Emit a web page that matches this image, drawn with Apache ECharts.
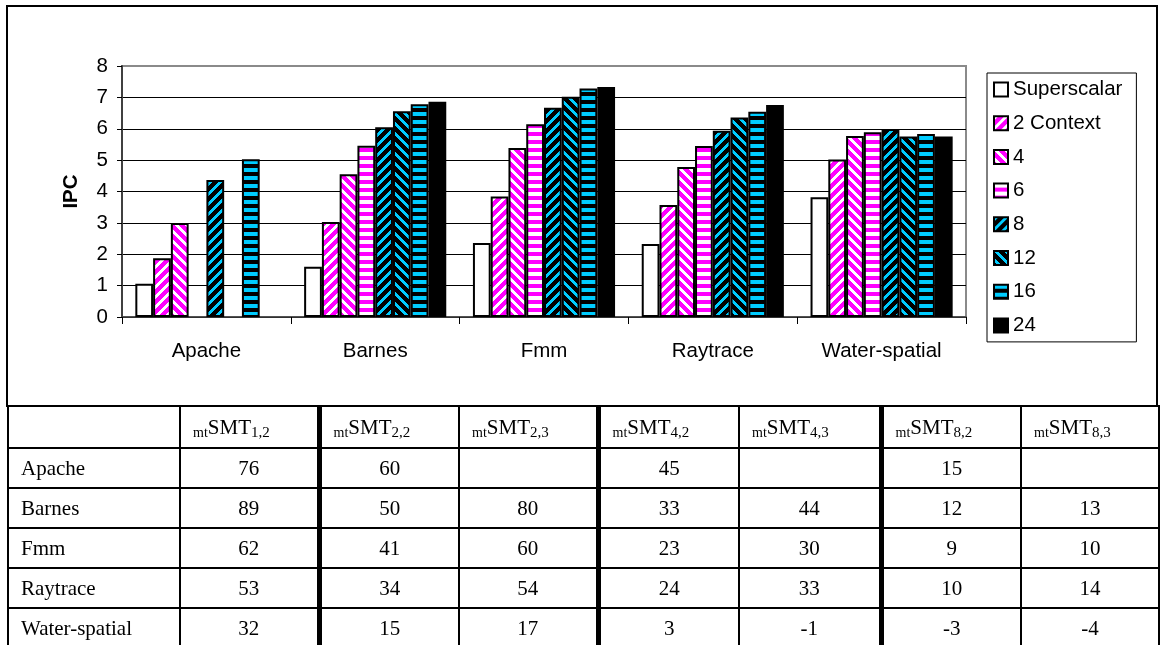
<!DOCTYPE html>
<html>
<head>
<meta charset="utf-8">
<script src="https://cdn.jsdelivr.net/npm/echarts@6/dist/echarts.min.js"></script>
<style>
  html, body { margin: 0; padding: 0; background: #fff; }
  #wrap { position: relative; width: 1160px; height: 645px; overflow: hidden; }
  #chart { position: absolute; left: 0; top: 0; width: 1160px; height: 645px; }
  #tbl {
    position: absolute; left: 7px; top: 405px;
    border-collapse: collapse; table-layout: fixed;
    font-family: "Liberation Serif", "Times New Roman", serif; font-size: 21px; color: #000;
  }
  #tbl td { border: 2px solid #000; padding: 0; height: 38px; text-align: center; white-space: nowrap; }
  #tbl tr.head td { height: 40px; text-align: left; padding-left: 12px; }
  #tbl td.rowname { text-align: left; padding-left: 12px; }
  #tbl td.thick { border-left: 5px solid #000; }
  #tbl sub { font-size: 15px; vertical-align: -3px; line-height: 0; }
  #tbl sub.pre { font-size: 14px; }
</style>
</head>
<body>
<div id="wrap">
  <div id="chart"></div>
  <table id="tbl"></table>
</div>
<script>
// Benchmarks on the category axis
const benchmarks = ['Apache', 'Barnes', 'Fmm', 'Raytrace', 'Water-spatial'];

// IPC per configuration (null = not measured)
const superscalar = [1.06, 1.60, 2.36, 2.33, 3.82];
const ctx2  = [1.87, 3.03, 3.84, 3.57, 5.02];
const ctx4  = [3.00, 4.55, 5.39, 4.78, 5.77];
const ctx6  = [null, 5.46, 6.14, 5.45, 5.89];
const ctx8  = [4.37, 6.05, 6.67, 5.94, 5.99];
const ctx12 = [null, 6.56, 7.02, 6.36, 5.75];
const ctx16 = [5.03, 6.78, 7.28, 6.54, 5.83];
const ctx24 = [null, 6.86, 7.33, 6.76, 5.75];

const seriesNames = ['Superscalar', '2 Context', '4', '6', '8', '12', '16', '24'];
const yTicks = [0, 1, 2, 3, 4, 5, 6, 7, 8];

// Table of mtSMT results: column subscripts and per-benchmark values ('' = empty cell)
const tableCols = ['1,2', '2,2', '2,3', '4,2', '4,3', '8,2', '8,3'];
const tableApache   = ['76', '60', '',   '45', '',   '15', ''];
const tableBarnes   = ['89', '50', '80', '33', '44', '12', '13'];
const tableFmm      = ['62', '41', '60', '23', '30', '9',  '10'];
const tableRaytrace = ['53', '34', '54', '24', '33', '10', '14'];
const tableWater    = ['32', '15', '17', '3',  '-1', '-3', '-4'];

// ---- fill patterns (square tiles, like office chart hatches) ----
function tile(n, bg, fg, test) {
  const c = document.createElement('canvas');
  c.width = n; c.height = n;
  const g = c.getContext('2d');
  g.fillStyle = bg; g.fillRect(0, 0, n, n);
  g.fillStyle = fg;
  for (let y = 0; y < n; y++) for (let x = 0; x < n; x++) if (test(x, y, n)) g.fillRect(x, y, 1, 1);
  return { image: c, repeat: 'repeat' };
}
const MAG = '#FF00FF', CYAN = '#00CCFF';
const up    = (x, y, n) => ((x + y) % n) < 4;            // "/" stripes
const down  = (x, y, n) => ((x - y + 2 * n) % n) < 4;    // "\" stripes
const horiz = (x, y, n) => (y % n) < n / 2;              // horizontal bands

const fills = [
  '#FFFFFF',
  tile(10, MAG, '#FFFFFF', up),
  tile(10, MAG, '#FFFFFF', down),
  tile(8, MAG, '#FFFFFF', horiz),
  tile(10, '#000000', CYAN, up),
  tile(10, '#000000', CYAN, down),
  tile(8, '#000000', CYAN, horiz),
  '#000000'
];
const values = [superscalar, ctx2, ctx4, ctx6, ctx8, ctx12, ctx16, ctx24];

const FONT = '"Liberation Sans", Arial, sans-serif';

const chart = echarts.init(document.getElementById('chart'), null, { renderer: 'canvas' });
chart.setOption({
  animation: false,
  backgroundColor: '#fff',
  graphic: [{
    type: 'rect', z: 0,
    shape: { x: 7, y: 6, width: 1150, height: 400 },
    style: { fill: null, stroke: '#000', lineWidth: 2 }
  }],
  grid: {
    left: 122, top: 66, width: 844, height: 251,
    show: true, borderColor: '#8a8a8a', borderWidth: 2, backgroundColor: 'transparent'
  },
  legend: {
    orient: 'vertical', left: 987, top: 73,
    data: seriesNames,
    selectedMode: false,
    itemWidth: 14, itemHeight: 14, itemGap: 12.7,
    padding: [6, 14, 6, 6],
    borderColor: '#000', borderWidth: 1,
    icon: 'rect',
    textStyle: { fontFamily: FONT, fontSize: 20.5, color: '#000' }
  },
  xAxis: {
    type: 'category', data: benchmarks,
    axisLine: { lineStyle: { color: '#404040', width: 1.5 } },
    axisTick: { show: true, length: 7, lineStyle: { color: '#000' } },
    axisLabel: { fontFamily: FONT, fontSize: 20.5, color: '#000', margin: 24 }
  },
  yAxis: {
    type: 'value', min: 0, max: 8, interval: 1,
    name: 'IPC', nameLocation: 'middle', nameGap: 40, nameRotate: 90,
    nameTextStyle: { fontFamily: FONT, fontSize: 20.5, fontWeight: 'bold', color: '#000' },
    axisLine: { show: true, lineStyle: { color: '#404040', width: 2 } },
    axisTick: { show: true, inside: false, length: 5, lineStyle: { color: '#000' } },
    axisLabel: { fontFamily: FONT, fontSize: 20.5, color: '#000', margin: 14,
                 formatter: v => String(yTicks[v] !== undefined ? yTicks[v] : v) },
    splitLine: { show: true, lineStyle: { color: ['#000', '#000', '#000', '#000', '#000', '#000', '#000', '#000', '#8a8a8a'], width: 1 } }
  },
  series: seriesNames.map((name, i) => ({
    name, type: 'bar',
    data: values[i],
    barGap: '0%', barCategoryGap: '15.8%',
    itemStyle: { color: fills[i], borderColor: '#000', borderWidth: 2 }
  }))
});

// ---- table below the chart ----
const tbl = document.getElementById('tbl');
const colWidths = [172, 139, 140, 139, 141, 142, 140, 138];
const thickCols = [2, 4, 6];
const cg = document.createElement('colgroup');
colWidths.forEach(w => { const c = document.createElement('col'); c.style.width = w + 'px'; cg.appendChild(c); });
tbl.appendChild(cg);

const head = document.createElement('tr');
head.className = 'head';
head.appendChild(document.createElement('td'));
tableCols.forEach((s, j) => {
  const td = document.createElement('td');
  if (thickCols.includes(j + 1)) td.classList.add('thick');
  td.innerHTML = '<sub class="pre">mt</sub>SMT<sub>' + s + '</sub>';
  head.appendChild(td);
});
tbl.appendChild(head);

const rows = [tableApache, tableBarnes, tableFmm, tableRaytrace, tableWater];
rows.forEach((r, i) => {
  const tr = document.createElement('tr');
  const name = document.createElement('td');
  name.className = 'rowname';
  name.textContent = benchmarks[i];
  tr.appendChild(name);
  r.forEach((v, j) => {
    const td = document.createElement('td');
    if (thickCols.includes(j + 1)) td.classList.add('thick');
    td.textContent = v;
    tr.appendChild(td);
  });
  tbl.appendChild(tr);
});
</script>
</body>
</html>
